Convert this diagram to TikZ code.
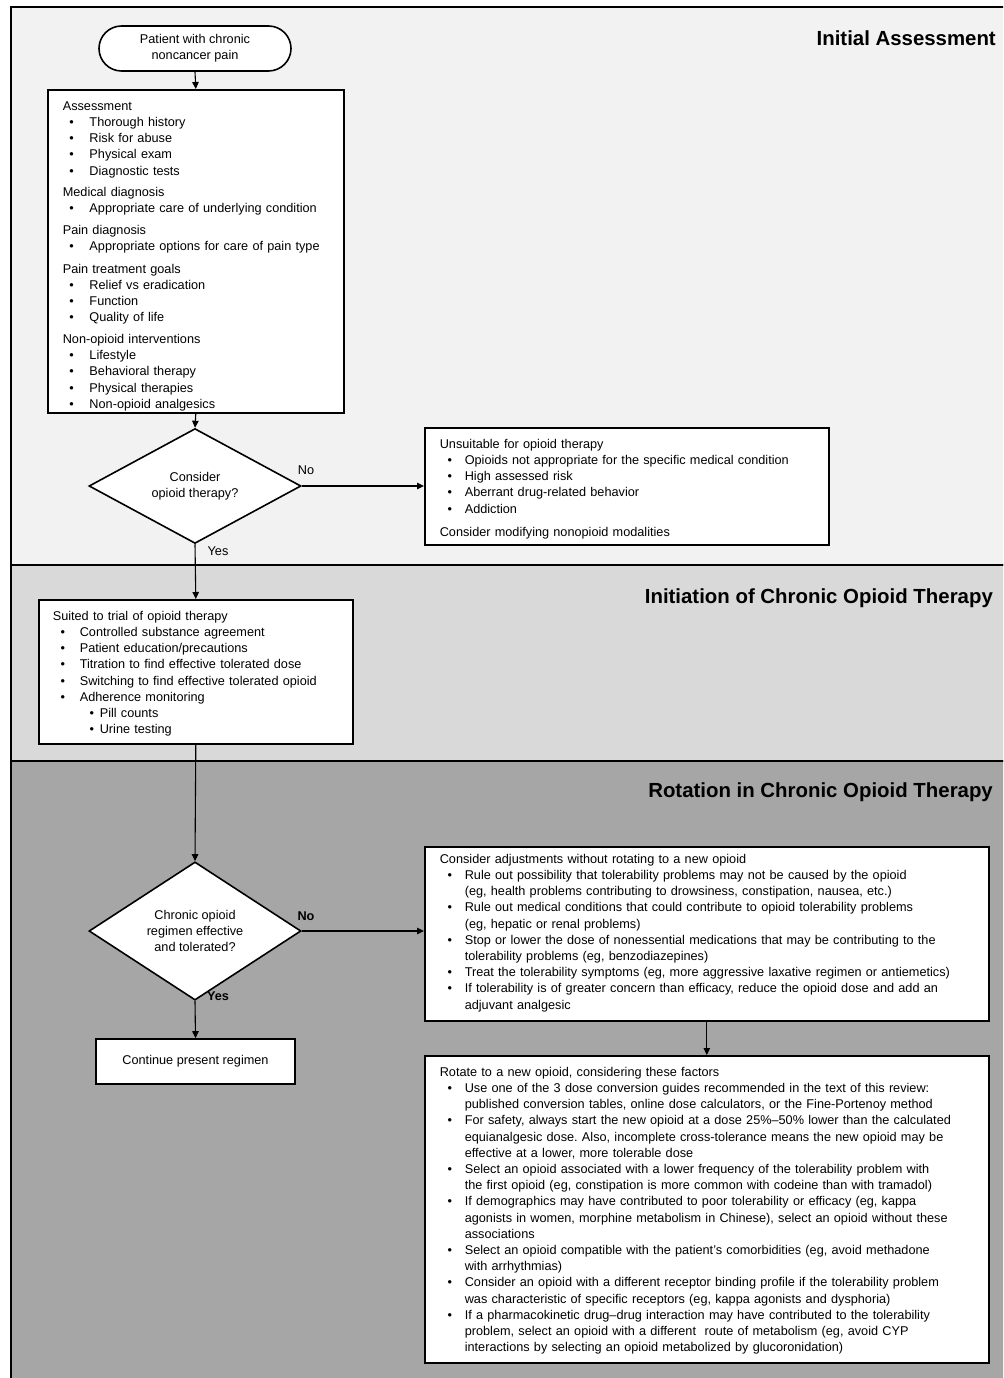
\documentclass[tikz,border=0pt]{standalone}
\usepackage{fontspec}
\setmainfont{Liberation Sans}
\usetikzlibrary{arrows.meta,shapes.geometric,shapes.misc}
\setlength\parindent{0pt}
\frenchspacing
\definecolor{secA}{HTML}{F2F2F2}
\definecolor{secB}{HTML}{D9D9D9}
\definecolor{secC}{HTML}{A6A6A6}
\newcommand\bitem[3]{\mbox{\hspace*{#1}\makebox[\dimexpr #2-#1\relax][l]{•}#3}}
\newcommand\aI[1]{\bitem{6.5bp}{26.7bp}{#1}}
\newcommand\rI[1]{\bitem{7.8bp}{25bp}{#1}}
\newcommand\rC[1]{\mbox{\hspace*{25bp}#1}}
\newcommand\sI[1]{\bitem{7.8bp}{27bp}{#1}}
\newcommand\sII[1]{\bitem{36.8bp}{47bp}{#1}}
\newcommand\hd[1]{\mbox{#1}}
\begin{document}
\begin{tikzpicture}[x=1bp,y=-1bp,
  txt/.style={font=\fontsize{12.7bp}{16.2bp}\selectfont},
  pbox/.style={txt, draw=black, line width=1.6bp, fill=white, anchor=north west, align=left, inner xsep=15bp, inner ysep=0pt},
  term/.style={txt, draw=black, line width=1.6bp, fill=white, rounded rectangle, minimum width=192bp, minimum height=45bp, align=center, inner sep=0pt},
  decide/.style={txt, draw=black, line width=1.6bp, fill=white, diamond, minimum width=212bp, minimum height=114bp, align=center, inner sep=0pt},
  plainbox/.style={txt, draw=black, line width=1.6bp, fill=white, inner sep=0pt},
  conn/.style={line width=1.1bp, -{Triangle[length=7bp,width=6.5bp]}},
  lbl/.style={txt, inner sep=0pt, anchor=base},
  blbl/.style={lbl, font=\fontsize{12.7bp}{16.2bp}\selectfont\bfseries},
  sectitle/.style={font=\fontsize{20.4bp}{24bp}\selectfont\bfseries, anchor=base east, inner sep=0pt},
  secline/.style={draw=black, line width=1.8bp}
]
\path[use as bounding box] (0,0) rectangle (1003,1378);
\clip (0,0) rectangle (1003,1378);
\fill[white] (0,0) rectangle (1003,1378);
\filldraw[secline, fill=secA] (11,7) rectangle (1030,565);
\filldraw[secline, fill=secB] (11,565) rectangle (1030,761);
\filldraw[secline, fill=secC] (11,761) rectangle (1030,1400);

\node[sectitle] (t1) at (996,45.3) {Initial Assessment};
\node[sectitle] (t2) at (993,603.3) {Initiation of Chronic Opioid Therapy};
\node[sectitle] (t3) at (993,797.3) {Rotation in Chronic Opioid Therapy};

\node[term] (start) at (195,48.5) {Patient with chronic\\noncancer pain};

\node[pbox, text width=266bp, text height=20.5bp, text depth=302.5bp] (assess) at (47,89) {%
\hd{Assessment}\\
\aI{Thorough history}\\
\aI{Risk for abuse}\\
\aI{Physical exam}\\
\aI{Diagnostic tests}\\[5.5bp]
\hd{Medical diagnosis}\\
\aI{Appropriate care of underlying condition}\\[5.5bp]
\hd{Pain diagnosis}\\
\aI{Appropriate options for care of pain type}\\[6bp]
\hd{Pain treatment goals}\\
\aI{Relief vs eradication}\\
\aI{Function}\\
\aI{Quality of life}\\[5.5bp]
\hd{Non-opioid interventions}\\
\aI{Lifestyle}\\
\aI{Behavioral therapy}\\
\aI{Physical therapies}\\
\aI{Non-opioid analgesics}};

\node[decide] (d1) at (195,486) {Consider\\opioid therapy?};

\node[pbox, text width=374bp, text height=20.5bp, text depth=96.5bp] (unsuit) at (424,427) {%
\hd{Unsuitable for opioid therapy}\\
\rI{Opioids not appropriate for the specific medical condition}\\
\rI{High assessed risk}\\
\rI{Aberrant drug-related behavior}\\
\rI{Addiction}\\[7bp]
\hd{Consider modifying nonopioid modalities}};

\node[pbox, inner xsep=14bp, text width=286bp, text height=20.5bp, text depth=123.5bp] (suited) at (38,599) {%
\hd{Suited to trial of opioid therapy}\\
\sI{Controlled substance agreement}\\
\sI{Patient education/precautions}\\
\sI{Titration to find effective tolerated dose}\\
\sI{Switching to find effective tolerated opioid}\\
\sI{Adherence monitoring}\\
\sII{Pill counts}\\
\sII{Urine testing}};

\node[decide] (d2) at (195,931) {Chronic opioid\\regimen effective\\and tolerated?};

\node[pbox, text width=534bp, text height=16.5bp, text depth=157.5bp] (adjust) at (424,846) {%
\hd{Consider adjustments without rotating to a new opioid}\\
\rI{Rule out possibility that tolerability problems may not be caused by the opioid}\\
\rC{(eg, health problems contributing to drowsiness, constipation, nausea, etc.)}\\
\rI{Rule out medical conditions that could contribute to opioid tolerability problems}\\
\rC{(eg, hepatic or renal problems)}\\
\rI{Stop or lower the dose of nonessential medications that may be contributing to the}\\
\rC{tolerability problems (eg, benzodiazepines)}\\
\rI{Treat the tolerability symptoms (eg, more aggressive laxative regimen or antiemetics)}\\
\rI{If tolerability is of greater concern than efficacy, reduce the opioid dose and add an}\\
\rC{adjuvant analgesic}};

\node[plainbox, minimum width=199bp, minimum height=45bp] (cont) at (195.5,1061.5) {Continue present regimen};

\node[pbox, text width=534bp, text height=20.5bp, text depth=286.5bp] (rotate) at (424,1055) {%
\hd{Rotate to a new opioid, considering these factors}\\
\rI{Use one of the 3 dose conversion guides recommended in the text of this review:}\\
\rC{published conversion tables, online dose calculators, or the Fine-Portenoy method}\\
\rI{For safety, always start the new opioid at a dose 25\%–50\% lower than the calculated}\\
\rC{equianalgesic dose. Also, incomplete cross-tolerance means the new opioid may be}\\
\rC{effective at a lower, more tolerable dose}\\
\rI{Select an opioid associated with a lower frequency of the tolerability problem with}\\
\rC{the first opioid (eg, constipation is more common with codeine than with tramadol)}\\
\rI{If demographics may have contributed to poor tolerability or efficacy (eg, kappa}\\
\rC{agonists in women, morphine metabolism in Chinese), select an opioid without these}\\
\rC{associations}\\
\rI{Select an opioid compatible with the patient’s comorbidities (eg, avoid methadone}\\
\rC{with arrhythmias)}\\
\rI{Consider an opioid with a different receptor binding profile if the tolerability problem}\\
\rC{was characteristic of specific receptors (eg, kappa agonists and dysphoria)}\\
\rI{If a pharmacokinetic drug–drug interaction may have contributed to the tolerability}\\
\rC{problem, select an opioid with a different\ \ route of metabolism (eg, avoid CYP}\\
\rC{interactions by selecting an opioid metabolized by glucoronidation)}};

\draw[conn] (start.south) -- (assess.north);
\draw[conn] (assess.south) -- (d1.north);
\draw[conn] (d1.east) -- (d1.east -| unsuit.west);
\draw[conn] (d1.south) -- (suited.north);
\draw[conn] (suited.south) -- (d2.north);
\draw[conn] (d2.east) -- (d2.east -| adjust.west);
\draw[conn] (d2.south) -- (cont.north);
\draw[conn] (adjust.south) -- (rotate.north);

\node[lbl] (no1) at (306,474.5) {No};
\node[lbl] (yes1) at (218,555.5) {Yes};
\node[blbl] (no2) at (306,920.5) {No};
\node[blbl] (yes2) at (218,1000.5) {Yes};
\end{tikzpicture}
\end{document}
